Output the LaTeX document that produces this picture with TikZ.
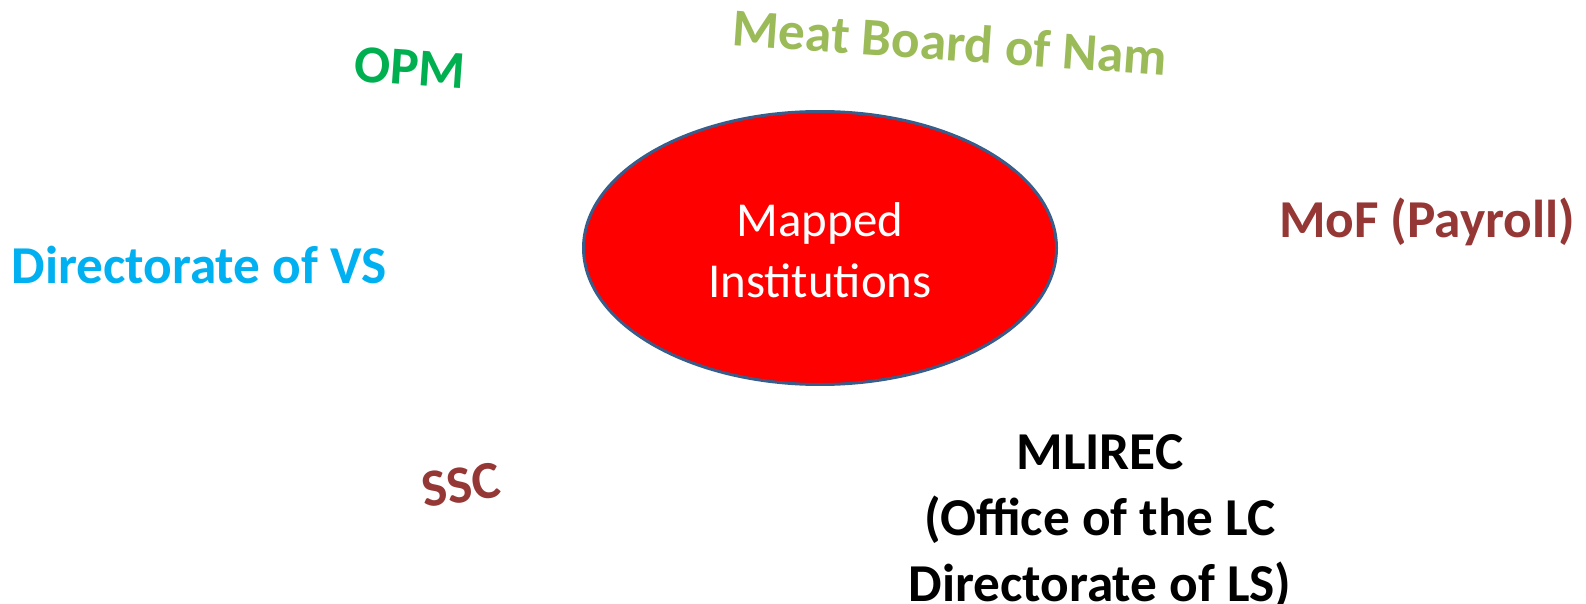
\documentclass[tikz,border=0pt]{standalone}
\usepackage{fontspec}
\setmainfont{Carlito}
\usetikzlibrary{shapes.geometric}
\definecolor{opmgreen}{HTML}{00B050}
\definecolor{olivegreen}{HTML}{9BBB59}
\definecolor{brownred}{HTML}{953735}
\definecolor{skyblue}{HTML}{00B0F0}
\definecolor{ellborder}{HTML}{385D8A}
\tikzset{
  lbl/.style={font=\fontsize{53.5}{66}\selectfont\bfseries, inner sep=0pt, align=center},
  hub/.style={ellipse, fill=red, draw=ellborder, line width=3pt, minimum width=473bp, minimum height=273bp, inner sep=0pt}
}
\begin{document}
\begin{tikzpicture}[x=1bp,y=-1bp]
\useasboundingbox (0,0) rectangle (1586,604);
\node[hub] (center) at (820,248) {};
\node[font=\fontsize{49}{61}\selectfont, text=white, align=center, inner sep=0pt] (centerlabel) at (820,250) {Mapped\\Institutions};
\node[lbl, text=opmgreen, rotate=-4] (opm) at (410,68) {OPM};
\node[lbl, text=olivegreen, rotate=-4] (meat) at (950,42) {Meat Board of Nam};
\node[lbl, text=brownred] (mof) at (1427,222) {MoF (Payroll)};
\node[lbl, text=skyblue] (dvs) at (199,265) {Directorate of VS};
\node[lbl, text=brownred, rotate=8] (ssc) at (461,485) {SSC};
\node[lbl, text=black] (mlirec) at (1100,522) {MLIREC\\(Office of the LC\\Directorate of LS)};
\end{tikzpicture}
\end{document}
